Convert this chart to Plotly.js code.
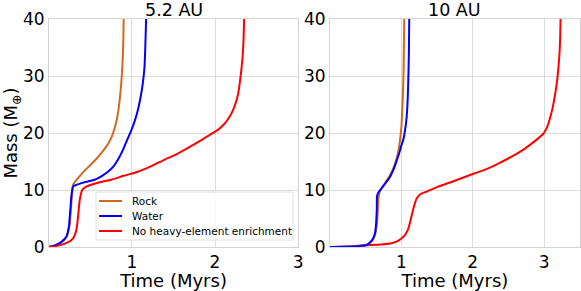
<!DOCTYPE html>
<html><head><meta charset="utf-8">
<script src="https://cdn.plot.ly/plotly-3.0.1.min.js"></script>
<style>body{margin:0;padding:0;background:#fff}#chart{width:581px;height:291px}</style>
</head><body><div id="chart"></div>
<script>
// 5.2 AU panel
const rock52_t = [0, 0.08, 0.15, 0.20, 0.23, 0.25, 0.26, 0.27, 0.28, 0.29, 0.35, 0.43, 0.50, 0.56, 0.62, 0.67, 0.72, 0.76, 0.80, 0.83, 0.85, 0.87, 0.885, 0.895, 0.90];
const rock52_m = [0, 0.3, 0.8, 1.6, 2.6, 4.0, 5.8, 7.8, 9.6, 10.9, 12.1, 13.4, 14.4, 15.3, 16.3, 17.2, 18.3, 19.5, 21.3, 23.4, 25.6, 28.6, 32.0, 36.0, 40];
const water52_t = [0, 0.08, 0.15, 0.21, 0.24, 0.25, 0.26, 0.27, 0.28, 0.29, 0.33, 0.39, 0.47, 0.55, 0.63, 0.71, 0.78, 0.83, 0.89, 0.94, 0.99, 1.03, 1.07, 1.10, 1.13, 1.15, 1.16, 1.17];
const water52_m = [0, 0.3, 0.9, 1.8, 3.6, 5.3, 7.1, 9.0, 10.0, 10.6, 10.9, 11.2, 11.5, 11.8, 12.4, 13.2, 14.2, 15.3, 17.0, 18.7, 20.4, 22.0, 24.0, 26.0, 28.7, 31.5, 35.0, 40];
const none52_t = [0, 0.10, 0.19, 0.26, 0.29, 0.31, 0.33, 0.34, 0.35, 0.36, 0.37, 0.385, 0.40, 0.45, 0.55, 0.65, 0.75, 0.90, 1.07, 1.22, 1.39, 1.54, 1.70, 1.83, 1.93, 2.03, 2.10, 2.16, 2.21, 2.25, 2.28, 2.30, 2.32, 2.335, 2.345, 2.35];
const none52_m = [0, 0.2, 0.6, 1.1, 1.5, 2.1, 3.0, 4.0, 5.3, 6.8, 8.2, 9.3, 10.0, 10.6, 11.1, 11.5, 11.8, 12.5, 13.2, 14.1, 15.3, 16.3, 17.6, 18.7, 19.6, 20.5, 21.4, 22.5, 23.8, 25.3, 27.0, 29.0, 31.5, 34.0, 37.0, 40];
// 10 AU panel
const rock10_t = [0, 0.20, 0.40, 0.51, 0.57, 0.61, 0.64, 0.66, 0.67, 0.68, 0.70, 0.74, 0.79, 0.84, 0.89, 0.93, 0.96, 0.98, 1.00, 1.01, 1.02, 1.03, 1.035, 1.04];
const rock10_m = [0, 0.05, 0.15, 0.35, 0.8, 1.5, 2.6, 4.5, 6.5, 8.5, 9.8, 10.6, 11.6, 12.6, 13.9, 15.4, 17.0, 18.7, 21.0, 23.5, 26.5, 30.5, 35.0, 40];
const water10_t = [0, 0.20, 0.40, 0.51, 0.56, 0.60, 0.63, 0.645, 0.655, 0.66, 0.68, 0.74, 0.79, 0.84, 0.89, 0.93, 0.97, 1.00, 1.03, 1.05, 1.07, 1.085, 1.095, 1.105, 1.11];
const water10_m = [0, 0.05, 0.15, 0.35, 0.8, 1.4, 2.4, 4.0, 6.5, 9.0, 9.6, 10.6, 11.4, 12.3, 13.6, 15.0, 16.5, 17.8, 19.0, 20.4, 22.3, 25.0, 28.5, 34.0, 40];
const none10_t = [0, 0.30, 0.56, 0.72, 0.84, 0.93, 1.00, 1.05, 1.09, 1.115, 1.14, 1.165, 1.19, 1.21, 1.23, 1.27, 1.35, 1.50, 1.72, 2.00, 2.20, 2.37, 2.55, 2.70, 2.82, 2.92, 2.99, 3.04, 3.08, 3.12, 3.15, 3.18, 3.20, 3.215, 3.225, 3.23];
const none10_m = [0, 0.1, 0.35, 0.45, 0.6, 0.95, 1.5, 2.1, 3.0, 4.0, 5.3, 6.6, 7.7, 8.4, 8.8, 9.3, 9.7, 10.5, 11.5, 12.8, 13.7, 14.7, 15.9, 17.0, 18.1, 19.1, 19.9, 21.0, 22.5, 24.5, 26.5, 29.0, 31.5, 34.0, 37.0, 40];

const names = ['Rock', 'Water', 'No heavy-element enrichment'];
const colors = ['#d2691e', '#0000ff', '#ff0000'];

function tr(x, y, i, ax) {
  return {x: x, y: y, type: 'scatter', mode: 'lines', name: names[i],
    line: {color: colors[i], width: 2, shape: 'spline', smoothing: 0.6},
    xaxis: ax === 1 ? 'x' : 'x2', yaxis: ax === 1 ? 'y' : 'y2',
    showlegend: false, hoverinfo: 'skip'};
}
const data = [
  tr(rock52_t, rock52_m, 0, 1),
  tr(water52_t, water52_m, 1, 1),
  tr(none52_t, none52_m, 2, 1),
  tr(none10_t, none10_m, 2, 2),
  tr(rock10_t, rock10_m, 0, 2),
  tr(water10_t, water10_m, 1, 2)
];
const FF = 'DejaVu Sans, sans-serif';
const axBase = {showline: true, linecolor: '#d3d3d3', linewidth: 1, mirror: true,
  showgrid: true, gridcolor: '#dcdcdc', gridwidth: 1, zeroline: false,
  ticks: '', tickfont: {size: 17, family: FF, color: '#000'}, fixedrange: true};

// custom legend (matplotlib-like compact legend) in paper coordinates
const W = 581, H = 291;
const px = v => v / W, py = v => 1 - v / H;
const legShapes = [{type: 'rect', xref: 'paper', yref: 'paper', x0: px(96), x1: px(293), y0: py(240), y1: py(192),
  line: {color: '#e0e0e0', width: 1}, fillcolor: 'rgba(255,255,255,0.85)', layer: 'above'}];
const legAnn = [];
const rowsY = [201, 216, 231];
names.forEach((n, i) => {
  legShapes.push({type: 'line', xref: 'paper', yref: 'paper', x0: px(99), x1: px(122), y0: py(rowsY[i]), y1: py(rowsY[i]),
    line: {color: colors[i], width: 2}, layer: 'above'});
  legAnn.push({text: n, xref: 'paper', yref: 'paper', x: px(130), y: py(rowsY[i]), xanchor: 'left', yanchor: 'middle',
    showarrow: false, font: {size: 10.5, family: FF, color: '#000'}});
});

const layout = {
  width: W, height: H, margin: {l: 0, r: 0, t: 0, b: 0},
  paper_bgcolor: '#fff', plot_bgcolor: '#fff', font: {family: FF, color: '#000'},
  showlegend: false,
  xaxis: Object.assign({}, axBase, {domain: [0.0843, 0.513], range: [0, 3], tickvals: [1, 2, 3],
    title: {text: 'Time (Myrs)', font: {size: 18, family: FF}, standoff: 3}}),
  yaxis: Object.assign({}, axBase, {domain: [0.1512, 0.9347], range: [0, 40], tickvals: [0, 10, 20, 30, 40],
    title: {text: 'Mass (M<sub>⊕</sub>)', font: {size: 18, family: FF}, standoff: 2}}),
  xaxis2: Object.assign({}, axBase, {domain: [0.568, 0.998], range: [0, 3.5], tickvals: [1, 2, 3], anchor: 'y2',
    title: {text: 'Time (Myrs)', font: {size: 18, family: FF}, standoff: 3}}),
  yaxis2: Object.assign({}, axBase, {domain: [0.1512, 0.9347], range: [0, 40], tickvals: [0, 10, 20, 30, 40], anchor: 'x2'}),
  shapes: legShapes,
  annotations: legAnn.concat([
    {text: '5.2 AU', xref: 'paper', yref: 'paper', x: 0.2987, y: py(10), xanchor: 'center', yanchor: 'middle', showarrow: false, font: {size: 17.5, family: FF}},
    {text: '10 AU', xref: 'paper', yref: 'paper', x: 0.783, y: py(10), xanchor: 'center', yanchor: 'middle', showarrow: false, font: {size: 17.5, family: FF}}
  ])
};
Plotly.newPlot('chart', data, layout, {displayModeBar: false, staticPlot: true});
</script></body></html>
